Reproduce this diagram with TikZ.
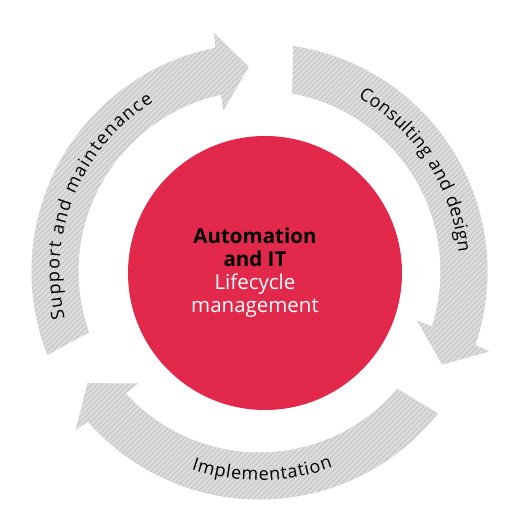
\documentclass[tikz,border=0pt]{standalone}
\usepackage{fontspec}
\setmainfont{Open Sans}
\usetikzlibrary{decorations.text}
\definecolor{hubred}{HTML}{E2294B}
\definecolor{hatchbase}{HTML}{CDCDCD}
\definecolor{hatchline}{HTML}{E2E2E2}
\def\ringlabelfont{\fontsize{18}{18}\selectfont}
\tikzset{
  hub/.style={circle, fill=hubred, minimum size=274pt, inner sep=0pt},
  hubtext/.style={text=white, align=center, font=\fontsize{20.5}{23}\selectfont},
  hatch/.style={hatchline, line width=1.3pt},
  ringlabel/.style={decorate, decoration={text along path, text align={fit to path}, text={|\ringlabelfont|#1}}}
}
\begin{document}
\begin{tikzpicture}[x=1pt,y=1pt]
\useasboundingbox (0,0) rectangle (530,530);
\node[hub] (hubcircle) at (265,257) {};
\node[hubtext] (hublabel) at (255,257.5) {{\bfseries\color{black}Automation}\\{\bfseries\color{black}and IT}\\Lifecycle\\management};
\begin{scope}[shift={(259.5,258.5)}]
  \foreach \T in {93,-27,213} {
    \begin{scope}
      \clip ({\T+108.5}:228) arc[start angle={\T+108.5}, end angle={\T+8.2}, radius=228]
        -- ({\T+7.8}:243) -- (\T:205) -- ({\T+9.7}:165) -- ({\T+9.3}:181)
        arc[start angle={\T+9.3}, end angle={\T+106.6}, radius=181] -- cycle;
      \fill[hatchbase] (-260,-260) rectangle (260,260);
      \foreach \k in {-100,...,100} \draw[hatch] ({\k*5.2-300},-300) -- ++(600,600);
    \end{scope}
  }
  \path[ringlabel={Support and maintenance}] (193.5:200) arc[start angle=193.5, end angle=122, radius=200];
  \path[ringlabel={Consulting{\hskip 6pt}and{\hskip 6pt}design}] (60.5:200) arc[start angle=60.5, end angle=5.5, radius=200];
  \path[ringlabel={Implementation}] (251:209) arc[start angle=251, end angle=290.5, radius=209];
\end{scope}
\end{tikzpicture}
\end{document}
